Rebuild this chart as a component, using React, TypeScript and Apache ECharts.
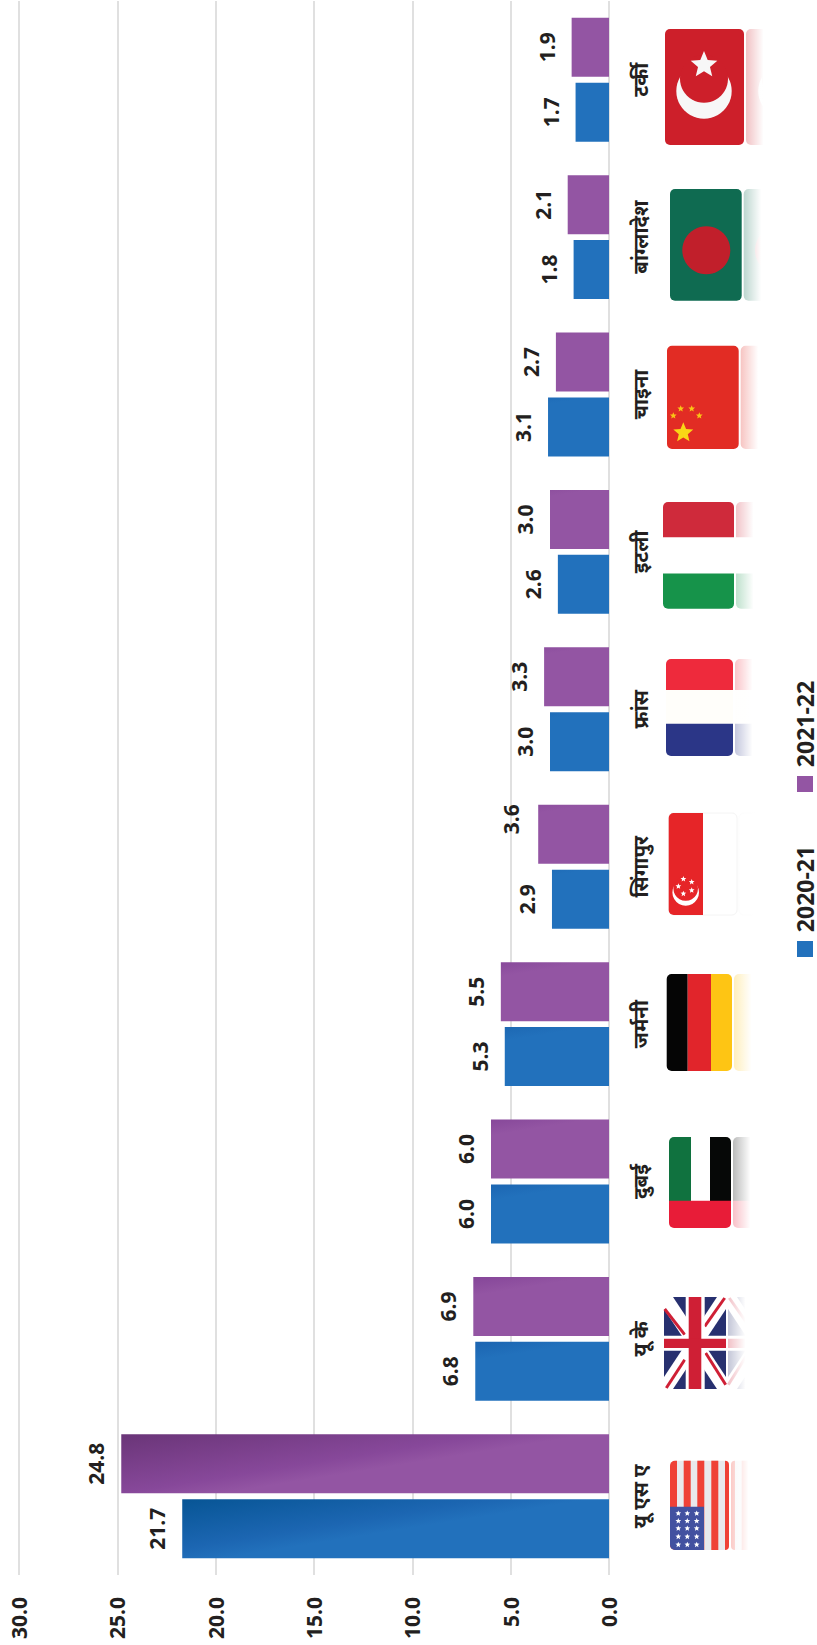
import React, { useEffect, useRef } from "react";
import * as echarts from "echarts";

const countries = ["यू एस ए", "यू के", "दुबई", "जर्मनी", "सिंगापुर", "फ्रांस", "इटली", "चाइना", "बांग्लादेश", "टर्की"];
const seriesNames = ["2020-21", "2021-22"];
const values2020 = [21.7, 6.8, 6.0, 5.3, 2.9, 3.0, 2.6, 3.1, 1.8, 1.7];
const values2021 = [24.8, 6.9, 6.0, 5.5, 3.6, 3.3, 3.0, 2.7, 2.1, 1.9];
const axisTicks = { min: 0, max: 30, interval: 5 };

const FONT = "'Open Sans', 'Noto Sans Devanagari', 'Noto Sans', sans-serif";
const INK = "#231f20";
const BLUE_RAMP = ["#2271bc", "#1c66b2", "#03528f"];
const PURPLE_RAMP = ["#9355a3", "#87489a", "#6a3578"];
const PX_PER_UNIT = 19.66;
const BAR_THICKNESS = 59;

const mix = (a: string, b: string, t: number) => {
  const ch = (s: string, i: number) => parseInt(s.slice(1 + i * 2, 3 + i * 2), 16);
  const out = [0, 1, 2].map((i) => Math.round(ch(a, i) + (ch(b, i) - ch(a, i)) * t));
  return `rgb(${out.join(",")})`;
};

// Long bars darken towards the far corner; short bars stay flat.
// The SVG renderer maps gradients onto the bar's bounding box, so the
// gradient vector is worked out in that unit square.
function barFill(value: number, ramp: string[]) {
  const k = 0.16;
  const w = value * PX_PER_UNIT;
  const reach = k * w + BAR_THICKNESS;
  if (reach <= 62) return ramp[0];
  const A = (k * w) / reach;
  const B = BAR_THICKNESS / reach;
  const n2 = A * A + B * B;
  const colorStops = [{ offset: 0, color: ramp[0] }, { offset: 62 / reach, color: ramp[0] }];
  if (reach <= 78) {
    colorStops.push({ offset: 1, color: mix(ramp[0], ramp[1], (reach - 62) / 16) });
  } else {
    colorStops.push({ offset: 78 / reach, color: ramp[1] });
    colorStops.push({ offset: 1, color: mix(ramp[1], ramp[2], Math.min(1, (reach - 78) / 59)) });
  }
  return new echarts.graphic.LinearGradient(1, 1, 1 - A / n2, 1 - B / n2, colorStops);
}

const starPoints = (cx: number, cy: number, r: number) => {
  const pts: number[][] = [];
  for (let i = 0; i < 10; i++) {
    const rad = i % 2 === 0 ? r : r * 0.45;
    const a = -Math.PI / 2 + (i * Math.PI) / 5;
    pts.push([cx + rad * Math.cos(a), cy + rad * Math.sin(a)]);
  }
  return pts;
};
const star = (cx: number, cy: number, r: number, fill: string) => ({
  type: "polygon", shape: { points: starPoints(cx, cy, r) }, style: { fill },
});
const box = (x: number, y: number, width: number, height: number, fill: string, r: any = 0) => ({
  type: "rect", shape: { x, y, width, height, r }, style: { fill },
});
const dot = (cx: number, cy: number, r: number, fill: string) => ({
  type: "circle", shape: { cx, cy, r }, style: { fill },
});
const seg = (x1: number, y1: number, x2: number, y2: number, stroke: string, lineWidth: number) => ({
  type: "line", shape: { x1, y1, x2, y2 }, style: { stroke, lineWidth },
});
const poly = (points: number[][], fill: string) => ({ type: "polygon", shape: { points }, style: { fill } });

const R = 5;
const usaFlag = (w: number, h: number) => {
  const parts: any[] = [box(0, 0, w, h, "#e9e9ec", R)];
  [0, 13.7, 27.3, 41.3, 55].forEach((x, i) =>
    parts.push(box(x, 0, i === 4 ? w - x : 7, h, "#ef4136", i === 0 ? [R, 0, 0, R] : i === 4 ? [0, R, R, 0] : 0))
  );
  parts.push(box(0, 46, 34, h - 46, "#4251a0", [0, 0, 0, R]));
  [8.3, 17.3, 26.7].forEach((x) =>
    [52.7, 60.3, 67.7, 76, 84].forEach((y) => parts.push(star(x, y, 3, "#ffffff")))
  );
  return parts;
};
const ukFlag = (w: number, h: number) => [
  box(0, 0, w, h, "#27306f", R),
  poly([[0, 0], [9, 0], [w, h - 12], [w, h], [w - 9, h], [0, 12]], "#ffffff"),
  poly([[w, 0], [w - 9, 0], [0, h - 12], [0, h], [9, h], [w, 12]], "#ffffff"),
  seg(0.7, 12, 20.7, 37.7, "#cf1f35", 3),
  seg(41.7, 56, 61.7, 87.7, "#cf1f35", 3),
  seg(40.7, 29.3, 60.7, 1, "#cf1f35", 3),
  seg(2.3, 91, 20.7, 62.7, "#cf1f35", 3),
  box(21.7, 0, 19, h, "#ffffff"),
  box(0, 38.7, w, 15, "#ffffff"),
  box(24.7, 0, 12.6, h, "#cf1f35"),
  box(0, 41.7, w, 9.3, "#cf1f35"),
];
const uaeFlag = (w: number, h: number) => [
  box(0, 0, 22, 64, "#10723f", [R, 0, 0, 0]),
  box(22, 0, 19, 64, "#ffffff"),
  box(41, 0, w - 41, 64, "#060807", [0, R, 0, 0]),
  box(0, 63.7, w, h - 63.7, "#e81c38", [0, 0, R, R]),
];
const germanyFlag = (w: number, h: number) => [
  box(0, 0, 21, h, "#050505", [R, 0, 0, R]),
  box(21, 0, 23.3, h, "#e1252b"),
  box(44.3, 0, w - 44.3, h, "#fec514", [0, R, R, 0]),
];
const singaporeFlag = (w: number, h: number) => [
  { ...box(0, 0, w, h, "#ffffff", R), style: { fill: "#ffffff", stroke: "#f4f4f4", lineWidth: 1 } },
  box(0, 0, 34.3, h, "#e62528", [R, 0, 0, R]),
  dot(17, 79.4, 13.3, "#ffffff"),
  dot(17, 75.5, 12.3, "#e62528"),
  star(14.7, 66, 3, "#ffffff"),
  star(23, 69, 3, "#ffffff"),
  star(9.7, 73.3, 3, "#ffffff"),
  star(23, 77.3, 3, "#ffffff"),
  star(14.7, 80.7, 3, "#ffffff"),
];
const franceFlag = (w: number, h: number) => [
  box(0, 0, w, 31, "#ee2a3c", [R, R, 0, 0]),
  box(0, 31, w, 33.7, "#fffefa"),
  box(0, 64.7, w, h - 64.7, "#2b3687", [0, 0, R, R]),
];
const italyFlag = (w: number, h: number) => [
  box(0, 0, w, 35.5, "#cf2a3b", [R, R, 0, 0]),
  box(0, 35.5, w, 36, "#ffffff"),
  box(0, 71.5, w, h - 71.5, "#16934a", [0, 0, R, R]),
];
const chinaFlag = (w: number, h: number) => [
  box(0, 0, w, h, "#e22c24", R),
  star(16.3, 87, 10.5, "#f9d616"),
  star(6.3, 70, 3.5, "#f9c516"),
  star(13.7, 63, 3.5, "#f9c516"),
  star(24.7, 63, 3.5, "#f9c516"),
  star(32.3, 70, 3.5, "#f9c516"),
];
const bangladeshFlag = (w: number, h: number) => [
  box(0, 0, w, h, "#0f6b51", R),
  dot(36.3, 61.3, 24, "#c11f2b"),
];
const turkeyFlag = (w: number, h: number) => [
  box(0, 0, w, h, "#cd1f2a", R),
  dot(39, 62, 27.7, "#f7f7f7"),
  dot(39, 49.7, 24, "#cd1f2a"),
  star(39, 36, 14, "#f7f7f7"),
];

// Flag placement relative to each category band, in category order.
const flagArt = [usaFlag, ukFlag, uaeFlag, germanyFlag, singaporeFlag, franceFlag, italyFlag, chinaFlag, bangladeshFlag, turkeyFlag];
const flagOffsetX = [61, 55, 60, 57.7, 59.7, 57, 54, 58, 61, 56];
const flagOffsetY = [-35.6, -41.9, -44.5, -50.1, -53.7, -50.3, -49.9, -48.8, -48.1, -50.7];
const flagWidth = [59, 62, 62, 65.3, 68.3, 67, 71, 71.7, 71.7, 79];
const flagHeight = [89.3, 92, 91, 97, 102, 97, 106.7, 103.3, 111.7, 116];
const SHEEN = 19;

function renderFlag(_: any, api: any) {
  const i = api.value(1);
  const base = api.coord([0, i]);
  const w = flagWidth[i];
  const h = flagHeight[i];
  const art = flagArt[i](w, h);
  return {
    type: "group",
    x: base[0] + flagOffsetX[i],
    y: base[1] + flagOffsetY[i],
    children: [
      // mirrored copy fading out past the right edge
      { type: "group", x: 2 * w + 2, scaleX: -1, children: flagArt[i](w, h) },
      {
        type: "rect",
        shape: { x: w + 0.5, y: -1, width: w + 3, height: h + 2 },
        style: {
          fill: new echarts.graphic.LinearGradient(0, 0, 1, 0, [
            { offset: 0, color: "rgba(255,255,255,0.7)" },
            { offset: SHEEN / (w + 3), color: "rgba(255,255,255,1)" },
            { offset: 1, color: "rgba(255,255,255,1)" },
          ]),
        },
      },
      ...art,
    ],
  };
}

const valueLabel = {
  show: true,
  position: "left",
  distance: 25,
  rotate: 90,
  align: "center",
  verticalAlign: "middle",
  fontFamily: FONT,
  fontWeight: 700,
  fontSize: 21,
  color: INK,
  formatter: (p: any) => Number(p.value).toFixed(1),
};

export default function App() {
  const ref = useRef<HTMLDivElement>(null);
  useEffect(() => {
    const chart = echarts.init(ref.current!, null, { renderer: "svg" });
    const legendY = [941, 776];
    const legendTextY = [889, 724];
    chart.setOption({
      animation: false,
      backgroundColor: "#ffffff",
      grid: { left: 19, right: 208, top: 1, height: 1574 },
      xAxis: {
        type: "value",
        inverse: true,
        ...axisTicks,
        position: "bottom",
        axisLine: { show: false },
        axisTick: { show: false },
        splitLine: { show: true, lineStyle: { color: "#e0e0e0", width: 2 } },
        axisLabel: {
          rotate: 90,
          margin: 22,
          align: "right",
          verticalAlign: "middle",
          fontFamily: FONT,
          fontWeight: 700,
          fontSize: 21,
          color: INK,
          formatter: (v: number) => v.toFixed(1),
          showMinLabel: true,
          showMaxLabel: true,
        },
      },
      yAxis: {
        type: "category",
        data: countries,
        position: "right",
        axisLine: { show: false },
        axisTick: { show: false },
        splitLine: { show: false },
        axisLabel: {
          rotate: 90,
          margin: 31,
          align: "center",
          verticalAlign: "middle",
          fontFamily: FONT,
          fontWeight: 700,
          fontSize: 20.5,
          color: INK,
          interval: 0,
        },
      },
      series: [
        {
          type: "bar",
          name: seriesNames[1],
          barWidth: BAR_THICKNESS,
          barGap: "10%",
          data: values2021.map((v, i) => ({
            value: v,
            itemStyle: { color: barFill(v, PURPLE_RAMP) },
            // the Singapore label sits above its bar's centre; offsets follow the rotated text
            ...(i === 4 ? { label: { offset: [15, -2] } } : {}),
          })),
          label: valueLabel,
        },
        {
          type: "bar",
          name: seriesNames[0],
          barWidth: BAR_THICKNESS,
          barGap: "10%",
          data: values2020.map((v) => ({ value: v, itemStyle: { color: barFill(v, BLUE_RAMP) } })),
          label: valueLabel,
        },
        {
          type: "custom",
          silent: true,
          clip: false,
          renderItem: renderFlag,
          encode: { x: 0, y: 1 },
          data: countries.map((_, i) => [0, i]),
          z: 3,
        },
      ],
      graphic: seriesNames.flatMap((name, i) => [
        {
          type: "rect",
          z: 100,
          shape: { x: 797, y: legendY[i], width: 16, height: 16 },
          style: { fill: [BLUE_RAMP[0], PURPLE_RAMP[0]][i] },
        },
        {
          type: "text",
          z: 100,
          x: 805,
          y: legendTextY[i],
          rotation: Math.PI / 2,
          style: {
            text: name,
            align: "center",
            verticalAlign: "middle",
            fontFamily: FONT,
            fontWeight: 700,
            fontSize: 23,
            fill: INK,
          },
        },
      ]),
    });
    return () => chart.dispose();
  }, []);
  return <div ref={ref} style={{ position: "absolute", left: 0, top: 0, width: 817, height: 1645 }} />;
}
